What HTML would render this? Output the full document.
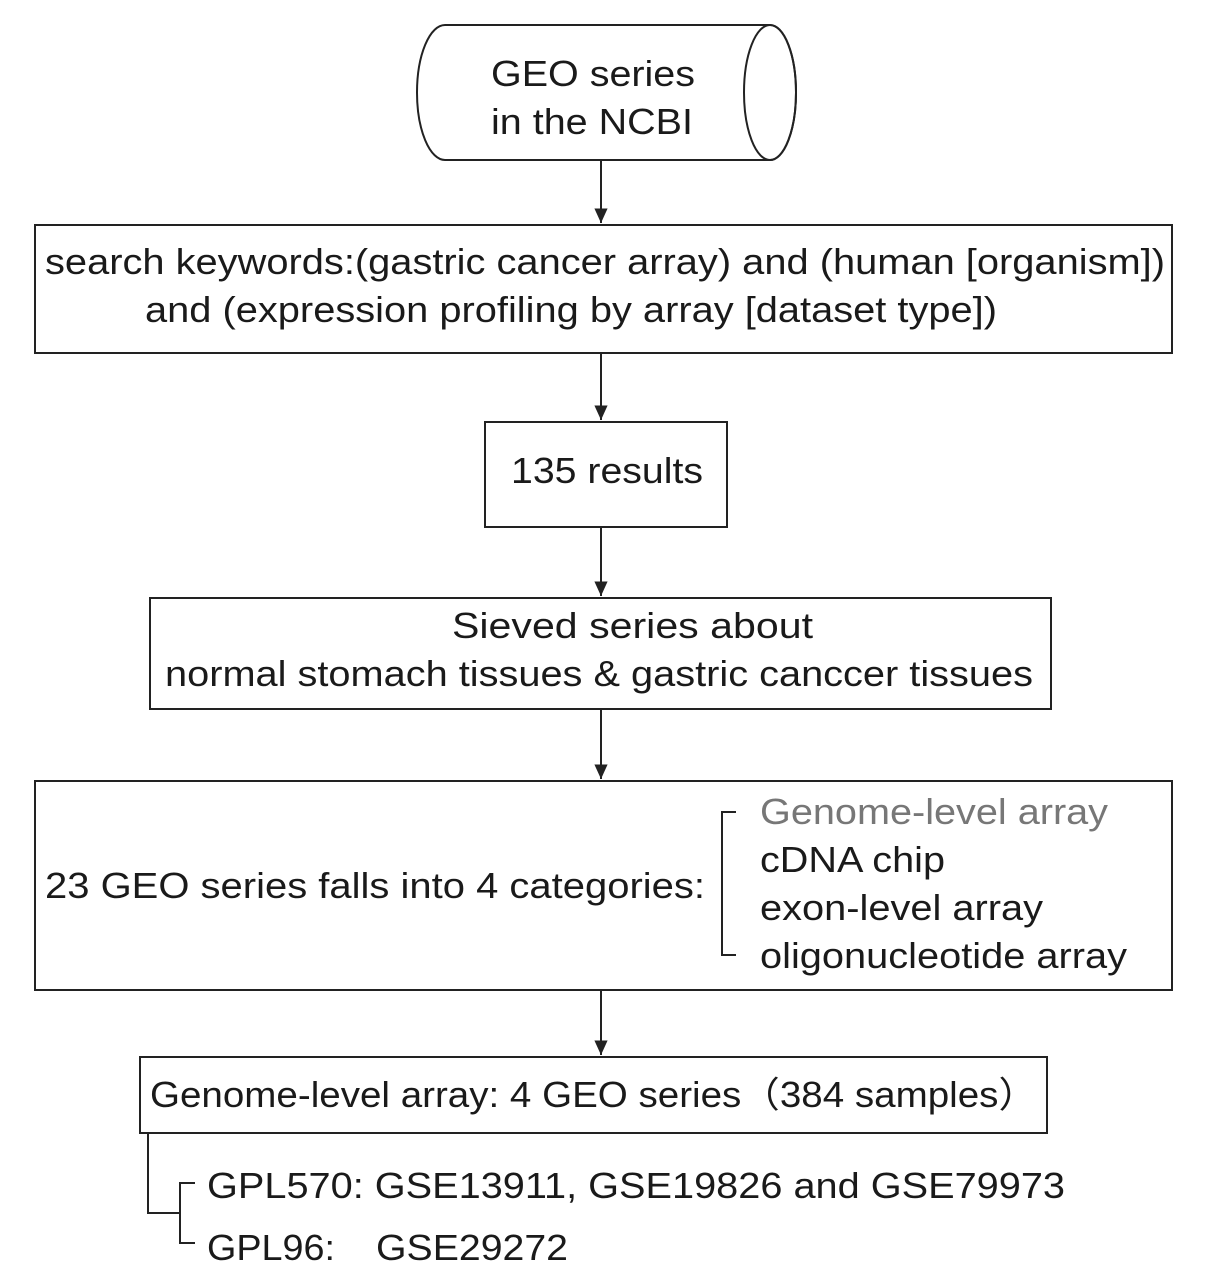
<!DOCTYPE html>
<html><head><meta charset="utf-8"><style>body{margin:0;background:#fff}svg{display:block}</style></head><body>
<svg width="1205" height="1286" viewBox="0 0 1205 1286" xmlns="http://www.w3.org/2000/svg" font-family="Liberation Sans, sans-serif" font-size="36" fill="#1a1a1a">
<defs>
<marker id="b" viewBox="0 0 12 12" markerWidth="16" markerHeight="16" refX="11" refY="6" orient="auto" markerUnits="userSpaceOnUse"><path d="M0,1 L11,6 L0,11 Z" fill="#222"/></marker></defs>
<g stroke="#222" stroke-width="2" fill="none">
<path d="M445,25 L770,25 A26,67.5 0 0 1 770,160 L445,160 A28,67.5 0 0 1 445,25 Z"/>
<ellipse cx="770" cy="92.5" rx="26" ry="67.5"/>
<rect x="35" y="225" width="1137" height="128"/>
<rect x="485" y="422" width="242" height="105"/>
<rect x="150" y="598" width="901" height="111"/>
<rect x="35" y="781" width="1137" height="209"/>
<rect x="140" y="1057" width="907" height="76"/>
<line x1="601" y1="160" x2="601" y2="223" marker-end="url(#b)"/>
<line x1="601" y1="353" x2="601" y2="420" marker-end="url(#b)"/>
<line x1="601" y1="527" x2="601" y2="596" marker-end="url(#b)"/>
<line x1="601" y1="709" x2="601" y2="779" marker-end="url(#b)"/>
<line x1="601" y1="990" x2="601" y2="1055" marker-end="url(#b)"/>
<path d="M736,812 L722,812 L722,955 L736,955"/>
<path d="M148,1133 L148,1213 L180,1213"/>
<path d="M195,1183 L180,1183 L180,1243 L195,1243"/>
</g>
<g lengthAdjust="spacingAndGlyphs">
<text x="491" y="86" textLength="204" lengthAdjust="spacingAndGlyphs">GEO series</text>
<text x="491" y="134" textLength="202" lengthAdjust="spacingAndGlyphs">in the NCBI</text>
<text x="45" y="274" textLength="1120" lengthAdjust="spacingAndGlyphs">search keywords:(gastric cancer array) and (human [organism])</text>
<text x="145" y="322" textLength="852" lengthAdjust="spacingAndGlyphs">and (expression profiling by array [dataset type])</text>
<text x="511" y="483" textLength="192" lengthAdjust="spacingAndGlyphs">135 results</text>
<text x="452" y="638" textLength="361" lengthAdjust="spacingAndGlyphs">Sieved  series about</text>
<text x="165" y="686" textLength="868" lengthAdjust="spacingAndGlyphs">normal stomach tissues &amp; gastric canccer tissues</text>
<text x="45" y="898" textLength="660" lengthAdjust="spacingAndGlyphs">23 GEO series falls into 4 categories:</text>
<text x="760" y="824" fill="#777" textLength="348" lengthAdjust="spacingAndGlyphs">Genome-level array</text>
<text x="760" y="872" textLength="185" lengthAdjust="spacingAndGlyphs">cDNA chip</text>
<text x="760" y="920" textLength="283" lengthAdjust="spacingAndGlyphs">exon-level array</text>
<text x="760" y="968" textLength="367" lengthAdjust="spacingAndGlyphs">oligonucleotide array</text>
<text x="150" y="1107" textLength="887" lengthAdjust="spacingAndGlyphs">Genome-level array: 4 GEO series（384 samples）</text>
<text x="207" y="1198" textLength="858" lengthAdjust="spacingAndGlyphs">GPL570: GSE13911, GSE19826 and GSE79973</text>
<text x="207" y="1260" textLength="128" lengthAdjust="spacingAndGlyphs">GPL96:</text>
<text x="376" y="1260" textLength="192" lengthAdjust="spacingAndGlyphs">GSE29272</text>
</g>
</svg>
</body></html>
